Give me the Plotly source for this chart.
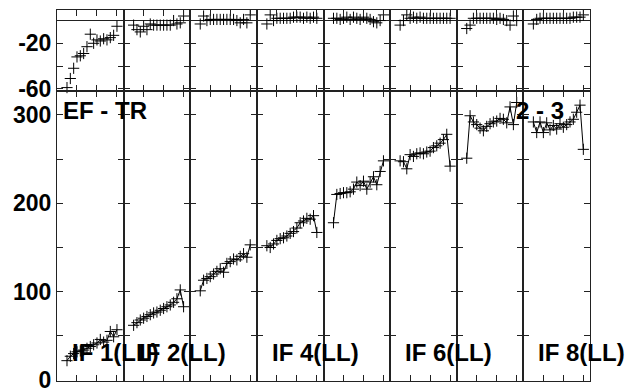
import plotly.graph_objects as go
from plotly.subplots import make_subplots

# channel numbers inside each IF panel
channels = list(range(3, 19))

if_labels = ["IF 1(LL)", "IF 2(LL)", "", "IF 4(LL)", "", "IF 6(LL)", "", "IF 8(LL)"]

# upper panels: scatter of residuals
resid = [
    [-59, -51, -42, -32, -31, -29, -23, -12, -20, -17, -18, -16, -17, -15, -13, -5],
    [-4, -8, -10, -5, -8, -3, -4, -4, -4, -4, -4, -4, 0, -3, -2, 4],
    [-3, 4, 0, 1, 1, 1, 1, 1, 1, 1, 1, 0, -2, 1, -2, 5],
    [-3, 5, 0, 2, 2, 2, 2, 2, 3, 3, 3, 2, 3, 2, 3, 2],
    [2, 2, 1, 2, 3, 1, 3, 2, 1, 3, 2, 1, -1, -2, 0, 5],
    [-4, 0, 5, 2, 3, 2, 3, 2, 2, 2, 2, 2, 2, 2, 2, 2],
    [-7, -4, 2, 2, 2, 2, 2, 2, 2, 1, 2, 1, 0, -4, 4, 0],
    [-3, 1, 2, 2, 2, 2, 2, 2, 2, 2, 2, 2, 3, 3, 3, 5],
]

# lower panels: EF - TR per channel
values = [
    [22, 27, 30, 32, 33, 34, 36, 38, 40, 42, 46, 43, 45, 55, 49, 57],
    [62, 65, 68, 70, 72, 74, 76, 77, 79, 81, 83, 85, 88, 92, 102, 83],
    [101, 113, 115, 117, 120, 123, 126, 122, 132, 134, 137, 136, 140, 143, 139, 153],
    [152, 150, 154, 158, 160, 161, 163, 166, 168, 172, 178, 180, 183, 182, 186, 167],
    [178, 210, 211, 212, 212, 213, 216, 224, 220, 225, 216, 224, 230, 221, 236, 248],
    [248, 247, 239, 255, 253, 256, 257, 256, 258, 259, 263, 265, 268, 272, 278, 242],
    [251, 299, 292, 289, 285, 282, 287, 290, 292, 293, 296, 295, 291, 309, 289, 314],
    [292, 280, 292, 280, 291, 283, 288, 284, 290, 286, 289, 292, 295, 303, 311, 261],
]

top_ticks = [-20, -40, -60]
top_ticktext = ["-20", "", "-60"]
bot_ticks = [0, 50, 100, 150, 200, 250, 300]
bot_ticktext = ["0", "", "100", "", "200", "", "300"]

ncol = len(values)
fig = make_subplots(rows=2, cols=ncol, shared_xaxes=False,
                    horizontal_spacing=0, vertical_spacing=0,
                    row_heights=[81 / 371, 290 / 371])

mk = dict(symbol="cross-thin", size=8, color="black", line=dict(width=1, color="black"))
for i in range(ncol):
    fig.add_trace(go.Scatter(x=channels, y=resid[i], mode="markers", marker=mk,
                             showlegend=False, cliponaxis=False), row=1, col=i + 1)
    fig.add_trace(go.Scatter(x=channels, y=values[i], mode="lines+markers", marker=mk,
                             line=dict(color="black", width=1), showlegend=False),
                  row=2, col=i + 1)

bold = dict(family="Liberation Sans", size=23, color="black", weight="bold")
big = dict(bold, size=24)
common = dict(showline=True, linecolor="#222", linewidth=1, mirror="allticks",
              ticks="inside", ticklen=6, tickcolor="#222", showgrid=False,
              automargin=False)

for i in range(ncol):
    for r in (1, 2):
        fig.update_xaxes(range=[0, 20], tickvals=[6, 12, 18], showticklabels=False,
                         zeroline=False, row=r, col=i + 1, **common)
    fig.update_yaxes(range=[-62, 9.3], tickvals=top_ticks, ticktext=top_ticktext,
                     showticklabels=(i == 0), tickfont=bold, ticklabelstandoff=0,
                     ticklabeloverflow="allow",
                     zeroline=True, zerolinecolor="#222", zerolinewidth=1,
                     row=1, col=i + 1, **common)
    fig.update_yaxes(range=[-1, 327], tickvals=bot_ticks, ticktext=bot_ticktext,
                     showticklabels=(i == 0), tickfont=bold, zeroline=False,
                     ticklabelstandoff=0, ticklabeloverflow="allow",
                     row=2, col=i + 1, **common)

# texts placed in pixel terms of the plot area (57..590 x 10..381)
def px(x):
    return (x - 57) / 533

def py(y):
    return (381 - y) / 371

notes = [("EF - TR", 61, 110), ("2 - 3", 514, 110)]
for i, lab in enumerate(if_labels):
    if lab:
        notes.append((lab, 57 + i * 533 / 8 + 13, 352))
for t, x, y in notes:
    fig.add_annotation(text=t, x=px(x), y=py(y), xref="paper", yref="paper",
                       xanchor="left", yanchor="middle", showarrow=False, font=big)

fig.update_layout(width=628, height=388, margin=dict(l=57, r=38, t=10, b=7),
                  plot_bgcolor="white", paper_bgcolor="white")

# drop the browser's default 8px body margin so the figure sits at the corner
fig.write_html("out.html", config={"displayModeBar": False},
               post_script="document.body.style.margin='0';")
